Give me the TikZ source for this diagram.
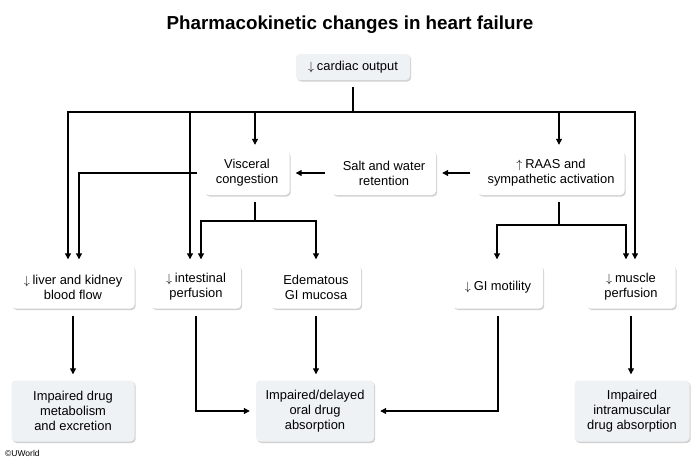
\documentclass[tikz,border=0pt]{standalone}
\usepackage{fontspec}
\setmainfont{Liberation Sans}
\usetikzlibrary{shadows,arrows.meta}
\definecolor{boxgray}{HTML}{EEF2F5}
\definecolor{shadowgray}{HTML}{9A9A9A}
\newcommand{\dnarr}{$\downarrow$\hspace{0.22em}}
\newcommand{\uparr}{$\uparrow$\hspace{0.22em}}
\begin{document}
\begin{tikzpicture}[x=1pt,y=-1pt,
  box/.style={rounded corners=4pt, fill=white, align=center, inner sep=2pt,
    font=\fontsize{12.9}{15}\selectfont,
    drop shadow={shadow xshift=1.2pt, shadow yshift=-1.5pt, fill=shadowgray, opacity=0.45}},
  gbox/.style={box, fill=boxgray},
  conn/.style={line width=1.1pt, shorten <=7pt},
  arr/.style={conn, -{Triangle[length=6pt,width=6pt]}, shorten >=6pt}]
\useasboundingbox (0,0) rectangle (700,463);
\node[font=\bfseries\fontsize{18.8}{21}\selectfont] (title) at (350,25) {Pharmacokinetic changes in heart failure};
\node[gbox, minimum width=114pt, minimum height=26pt] (co) at (353,67) {\dnarr cardiac output};
\node[box, minimum width=85pt, minimum height=44pt] (visc) at (247,173) {Visceral\\congestion};
\node[box, minimum width=104pt, minimum height=44pt] (salt) at (384,173) {Salt and water\\retention};
\node[box, minimum width=147pt, minimum height=44pt] (raas) at (551,173) {\uparr RAAS and\\sympathetic activation};
\node[box, minimum width=123pt, minimum height=43pt] (liver) at (73,287) {\dnarr liver and kidney\\blood flow};
\node[box, minimum width=90pt, minimum height=43pt] (intest) at (196,287) {\dnarr intestinal\\perfusion};
\node[box, minimum width=90pt, minimum height=43pt] (edema) at (316,287) {Edematous\\GI mucosa};
\node[box, minimum width=90pt, minimum height=43pt] (gimot) at (498,287) {\dnarr GI motility};
\node[box, minimum width=89pt, minimum height=43pt] (muscle) at (631,287) {\dnarr muscle\\perfusion};
\node[gbox, minimum width=123pt, minimum height=61pt] (met) at (73,411) {Impaired drug\\metabolism\\and excretion};
\node[gbox, minimum width=118pt, minimum height=61pt] (oral) at (315,411) {Impaired/delayed\\oral drug\\absorption};
\node[gbox, minimum width=115pt, minimum height=61pt] (im) at (632,411) {Impaired\\intramuscular\\drug absorption};
\node[anchor=west, inner sep=0pt, font=\fontsize{8.5}{9}\selectfont] (copy) at (5,453) {\textcopyright UWorld};
% junctions
\coordinate (j1) at (353,112);
\coordinate (j2) at (255,221);
\coordinate (j3) at (559,225);
% cardiac output bus
\draw[conn, shorten >=0pt] (co.south) -- (j1);
\draw[arr, shorten <=0pt] (j1) -| ([xshift=-5pt]liver.north);
\draw[arr, shorten <=0pt] (j1) -| ([xshift=-6pt]intest.north);
\draw[arr, shorten <=0pt] (j1) -| ([xshift=8pt]visc.north);
\draw[arr, shorten <=0pt] (j1) -| ([xshift=8pt]raas.north);
\draw[arr, shorten <=0pt] (j1) -| ([xshift=4pt]muscle.north);
% horizontal chain
\draw[arr] (raas.west) -- (salt.east);
\draw[arr] (salt.west) -- (visc.east);
\draw[arr] (visc.west) -| ([xshift=6pt]liver.north);
% visceral congestion branch
\draw[conn] ([xshift=8pt]visc.south) -- (j2);
\draw[arr, shorten <=0pt] (j2) -| ([xshift=5pt]intest.north);
\draw[arr, shorten <=0pt] (j2) -| (edema.north);
% RAAS branch
\draw[conn] ([xshift=8pt]raas.south) -- (j3);
\draw[arr, shorten <=0pt] (j3) -| ([xshift=-1pt]gimot.north);
\draw[arr, shorten <=0pt] (j3) -| ([xshift=-5pt]muscle.north);
% to outcomes
\draw[arr] (liver.south) -- (met.north);
\draw[arr] (intest.south) |- (oral.west);
\draw[arr] (edema.south) -- (edema.south |- oral.north);
\draw[arr] (gimot.south) |- (oral.east);
\draw[arr] (muscle.south) -- (muscle.south |- im.north);
\end{tikzpicture}
\end{document}
